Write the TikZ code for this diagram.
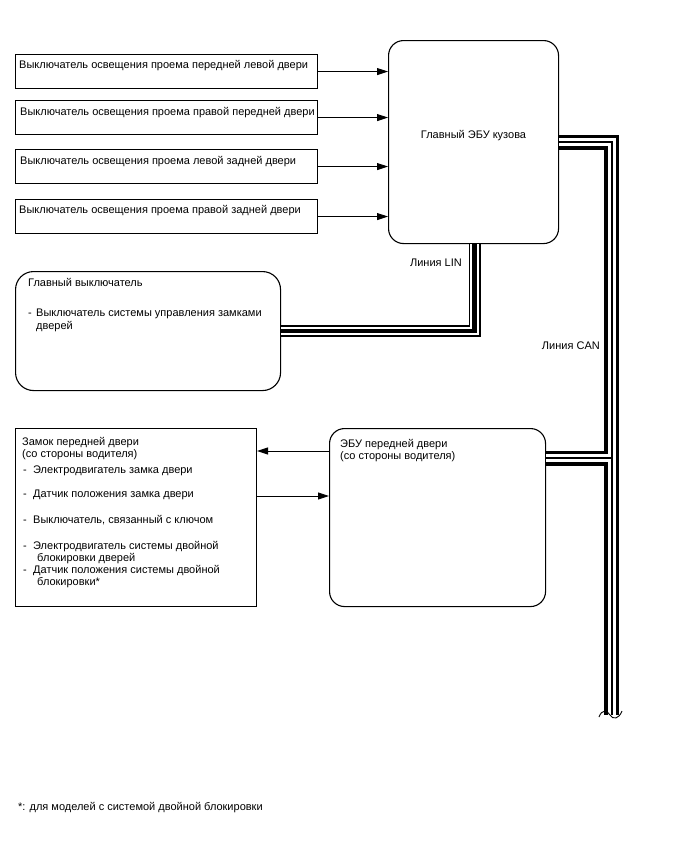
\documentclass[tikz,border=0pt]{standalone}
\usepackage{fontspec}
\setmainfont{Liberation Sans}
\usetikzlibrary{positioning,arrows.meta}
\tikzset{
  swbox/.style={draw,line width=1.1pt,minimum width=302pt,minimum height=34pt,inner sep=0pt,anchor=north west},
  rbox/.style={draw,line width=1.1pt,rounded corners=#1,inner sep=0pt,anchor=north west},
  lbl/.style={inner sep=0pt,align=left,font=\fontsize{11}{12.5}\selectfont},
  sig/.style={-{Triangle[length=11pt,width=7pt]},line width=0.9pt},
}
\newcommand{\dsh}[1][10pt]{\makebox[#1][l]{-}}
\begin{document}
\begin{tikzpicture}[x=1pt,y=-1pt]
\useasboundingbox (0,0) rectangle (688,852);
% door light switches
\node[swbox] (sw1) at (15,54) {};
\node[swbox] (sw2) at (15,100) {};
\node[swbox] (sw3) at (15,149) {};
\node[swbox] (sw4) at (15,199) {};
\node[lbl,below right=6pt and 4pt of sw1.north west] (sw1t) {Выключатель освещения проема передней левой двери};
\node[lbl,below right=7pt and 5pt of sw2.north west] (sw2t) {Выключатель освещения проема правой передней двери};
\node[lbl,below right=7pt and 5pt of sw3.north west] (sw3t) {Выключатель освещения проема левой задней двери};
\node[lbl,below right=6pt and 4pt of sw4.north west] (sw4t) {Выключатель освещения проема правой задней двери};
% main body ECU
\node[rbox=15pt,minimum width=170pt,minimum height=203pt] (ecu) at (388,40) {};
\node[lbl,below=90pt of ecu.north] (ecut) {Главный ЭБУ кузова};
\foreach \s in {sw1,sw2,sw3,sw4}
  \draw[sig] (\s.east) -- (\s.east -| ecu.west);
% master switch
\node[rbox=18pt,minimum width=265pt,minimum height=119pt] (msw) at (15,271) {};
\node[lbl,below right=7pt and 13pt of msw.north west] (mswt) {Главный выключатель};
\node[lbl,below right=38pt and 13pt of msw.north west] (mswi) {\dsh[8pt]Выключатель системы управления замками\\\hspace*{8pt}дверей};
% LIN
\foreach \w/\c in {12pt/black,8.5pt/white,4.5pt/black}
  \draw[line width=\w,\c] ([xshift=1pt]ecu.south) |- (msw.east);
\node[lbl,anchor=north east] (linlbl) at (462,259) {Линия LIN};
% door ECU
\node[rbox=15pt,minimum width=216pt,minimum height=178pt] (dcu) at (329,428) {};
\node[lbl,below right=11pt and 11pt of dcu.north west] (dcut) {ЭБУ передней двери\\(со стороны водителя)};
% door lock
\node[swbox,minimum width=241pt,minimum height=178pt] (lock) at (15,428) {};
\node[lbl,below right=9pt and 7pt of lock.north west] (lockt) {Замок передней двери\\(со стороны водителя)};
\node[lbl,below right=38pt and 8pt of lock.north west] (lock1) {\dsh Электродвигатель замка двери};
\node[lbl,below right=62pt and 8pt of lock.north west] (lock2) {\dsh Датчик положения замка двери};
\node[lbl,below right=87pt and 8pt of lock.north west] (lock3) {\dsh Выключатель, связанный с ключом};
\node[lbl,below right=113pt and 8pt of lock.north west] (lock4) {\dsh Электродвигатель системы двойной\\\hspace*{14pt}блокировки дверей};
\node[lbl,below right=137pt and 8pt of lock.north west] (lock5) {\dsh Датчик положения системы двойной\\\hspace*{14pt}блокировки*};
\coordinate (a1) at (0,451);
\coordinate (a2) at (0,496);
\draw[sig] (a1 -| dcu.west) -- (a1 -| lock.east);
\draw[sig] (a2 -| lock.east) -- (a2 -| dcu.west);
% CAN
\coordinate (canj) at (611.5,458);
\coordinate (canend) at (611.5,715);
\foreach \w/\c in {15pt/black,8pt/white,2pt/black}{
  \draw[line width=\w,\c] (ecu.east) -| (canend);
  \draw[line width=\w,\c] (canj -| dcu.east) -- (canj);
}
\draw[line width=0.9pt] (599,717) .. controls (602,709) and (607,710) .. (610,715) .. controls (613,720) and (619,719) .. (622,711);
\node[lbl,anchor=north east] (canlbl) at (600,342) {Линия CAN};
% footnote
\node[lbl,anchor=north west] (note) at (18,802) {*: для моделей с системой двойной блокировки};
\end{tikzpicture}
\end{document}
